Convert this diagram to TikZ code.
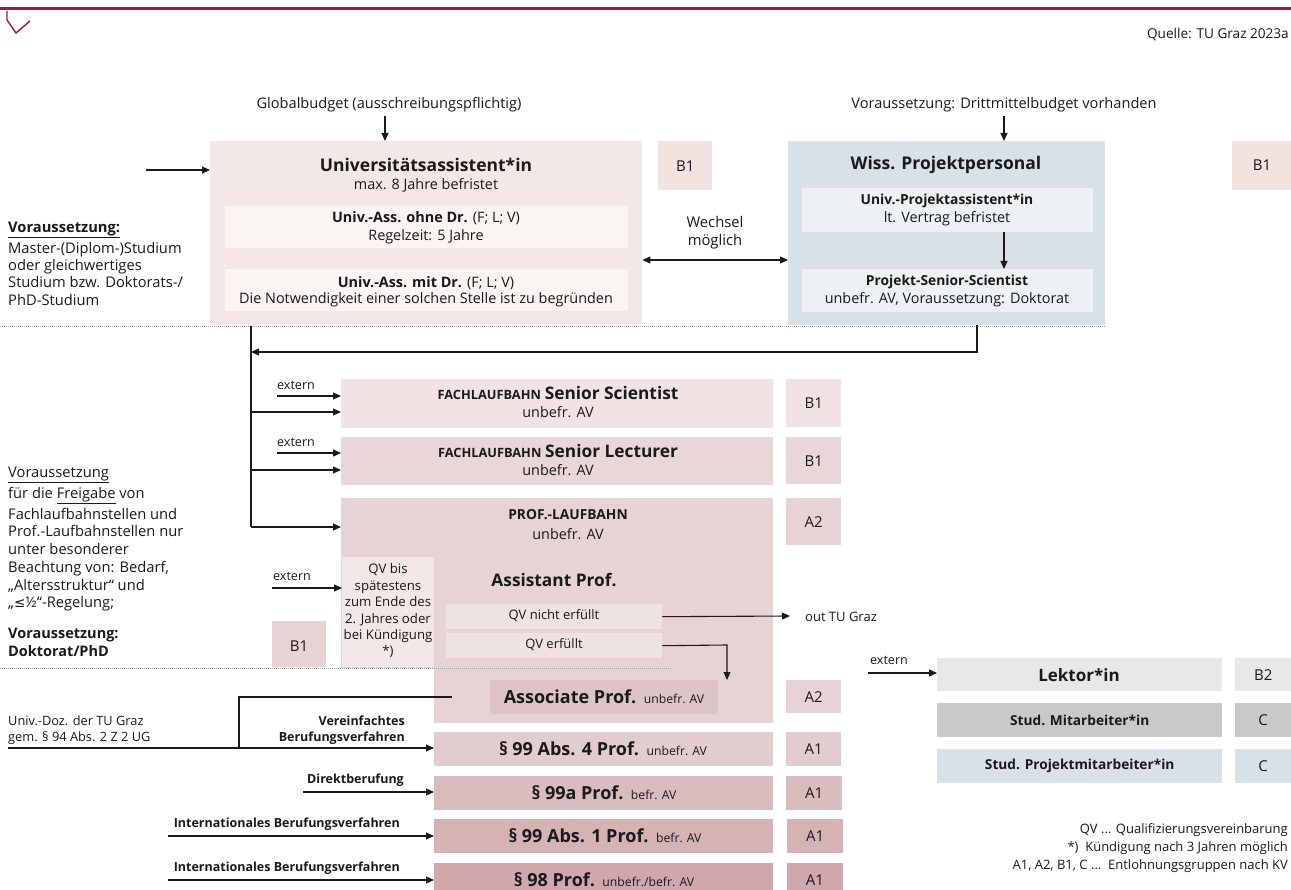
\documentclass[tikz,border=0pt]{standalone}
\usepackage{fontspec}
\setmainfont{Open Sans}
\newfontfamily\symf{DejaVu Sans}
\usetikzlibrary{arrows.meta}
\definecolor{cRed}{HTML}{9E1B3C}
\definecolor{cU}{HTML}{F4E8E7}
\definecolor{cUin}{HTML}{FAF4F3}
\definecolor{cBtop}{HTML}{F2E3E1}
\definecolor{cW}{HTML}{D8E1E6}
\definecolor{cWin}{HTML}{EDF1F4}
\definecolor{cFSS}{HTML}{F1E3E3}
\definecolor{cFSL}{HTML}{E9D6D7}
\definecolor{cProf}{HTML}{E7D3D4}
\definecolor{cQV}{HTML}{F2E6E6}
\definecolor{cQVn}{HTML}{EFE2E2}
\definecolor{cAss}{HTML}{DCC5C7}
\definecolor{cA}{HTML}{E3CCCE}
\definecolor{cB}{HTML}{DABCBE}
\definecolor{cC}{HTML}{D5B2B4}
\definecolor{cD}{HTML}{D0A7AA}
\definecolor{cLek}{HTML}{E8E8E8}
\definecolor{cSM}{HTML}{C9C9C9}
\definecolor{cSP}{HTML}{D7E1E6}
\definecolor{cTxt}{HTML}{1A1A1A}
\newcommand\fs[1]{\fontsize{#1}{#1}\selectfont}
\begin{document}
\begin{tikzpicture}[x=1pt,y=-1pt,
  every node/.style={text=cTxt},
  font=\fs{14.4},
  bx/.style={inner sep=0pt, anchor=north west, draw=none},
  tx/.style={inner sep=0pt, align=center},
  arr/.style={-{Triangle[length=8pt,width=7pt]}, line width=1.1pt, draw=cTxt},
  darr/.style={{Triangle[length=8pt,width=7pt]}-{Triangle[length=8pt,width=7pt]}, line width=1.1pt, draw=cTxt},
  ln/.style={line width=1.1pt, draw=cTxt},
  dots/.style={line width=1pt, draw=gray!75, dash pattern=on 0.8pt off 1.2pt}
]
\useasboundingbox (0,0) rectangle (1291,890);
\fill[white] (0,0) rectangle (1291,890);
% header
\draw[cRed, line width=3pt] (0,9) -- (1291,9);
\draw[cRed, line width=1.4pt] (7,11) -- (7,20) -- (16,33) -- (30,21);
\node[tx, anchor=east, font=\fs{13.6}] (quelle) at (1289,34) {Quelle: TU Graz 2023a};

% top labels
\node[tx, font=\fs{14.6}] (gb) at (389,105) {Globalbudget (ausschreibungspflichtig)};
\node[tx, font=\fs{14.6}] (dm) at (1004,105) {Voraussetzung: Drittmittelbudget vorhanden};

% Univ box
\node[bx, fill=cU, minimum width=432pt, minimum height=184pt] (univ) at (210,141) {};
\node[tx, font=\bfseries\fs{17.5}] (univt) at (426,165) {Universitätsassistent*in};
\node[tx] (univs) at (426,185) {max. 8 Jahre befristet};
\node[bx, fill=cUin, minimum width=403pt, minimum height=42pt] (ua1) at (225,206) {};
\node[tx] (ua1a) at (426,218) {\textbf{Univ.-Ass. ohne Dr.} (F; L; V)};
\node[tx] (ua1b) at (426,237) {Regelzeit: 5 Jahre};
\node[bx, fill=cUin, minimum width=403pt, minimum height=42pt] (ua2) at (225,269) {};
\node[tx] (ua2a) at (426,283) {\textbf{Univ.-Ass. mit Dr.} (F; L; V)};
\node[tx] (ua2b) at (426,300) {Die Notwendigkeit einer solchen Stelle ist zu begründen};
\node[bx, fill=cBtop, minimum width=54pt, minimum height=49pt] (b1a) at (658,141) {};
\node[tx, font=\fs{15}] at (b1a.center) {B1};

% Wiss box
\node[bx, fill=cW, minimum width=317pt, minimum height=184pt] (wiss) at (788,141) {};
\node[tx, font=\bfseries\fs{17.5}] (wisst) at (946,165) {Wiss. Projektpersonal};
\node[bx, fill=cWin, minimum width=291pt, minimum height=44pt] (wp1) at (802,188) {};
\node[tx, font=\bfseries\fs{13.8}] (wp1a) at (947,201) {Univ.-Projektassistent*in};
\node[tx] (wp1b) at (947,219) {lt. Vertrag befristet};
\node[bx, fill=cWin, minimum width=291pt, minimum height=43pt] (wp2) at (802,269) {};
\node[tx, font=\bfseries\fs{13.8}] (wp2a) at (947,282) {Projekt-Senior-Scientist};
\node[tx] (wp2b) at (947,300) {unbefr. AV, Voraussetzung: Doktorat};
\node[bx, fill=cBtop, minimum width=59pt, minimum height=49pt] (b1b) at (1232,141) {};
\node[tx, font=\fs{15}] at (1262,165) {B1};

\node[tx, align=center, font=\fs{14.8}] (wech) at (715,233) {Wechsel\\[3.5pt]möglich};

% top connectors
\coordinate (g1) at (385,116);
\draw[arr] (g1) -- (g1 |- univ.north);
\coordinate (d1) at (1004,116);
\draw[arr] (d1) -- (d1 |- wiss.north);
\coordinate (lin) at (146,170);
\draw[arr] (lin) -- (lin -| univ.west);
\coordinate (w1) at (1004,232);
\draw[arr] (w1) -- (w1 |- wp2.north);
\coordinate (wx) at (0,260);
\draw[darr] (wx -| univ.east) -- (wx -| wiss.west);

% left text 1
\node[tx, anchor=north west, align=left, font=\fs{14.7}] (vor1) at (8,222)
 {\textbf{\underline{Voraussetzung:}}\\[2.7pt]Master-(Diplom-)Studium\\[2.7pt]oder gleichwertiges\\[2.7pt]Studium bzw. Doktorats-/\\[2.7pt]PhD-Studium};

\draw[dots] (0,327) -- (1105,327);

% trunk
\coordinate (t0) at (251,326);
\coordinate (t1) at (251,412);
\coordinate (t2) at (251,470);
\coordinate (t3) at (251,527);
\coordinate (r0) at (977,325);
\coordinate (r1) at (977,352);
\coordinate (r2) at (251,352);
\draw[ln] (t0) -- (t3);
\draw[arr] (r0) -- (r1) -- (r2);

% Fachlaufbahn
\node[bx, fill=cFSS, minimum width=432pt, minimum height=49pt] (fss) at (341,379) {};
\node[tx] (fsst) at (558,393) {{\bfseries\fs{12.8}FACHLAUFBAHN} {\bfseries\fs{17.3}Senior Scientist}};
\node[tx] (fsss) at (558,412) {unbefr. AV};
\node[bx, fill=cFSS, minimum width=55pt, minimum height=48pt] (b1c) at (786,379) {};
\node[tx, font=\fs{15}] at (b1c.center) {B1};

\node[bx, fill=cFSL, minimum width=432pt, minimum height=48pt] (fsl) at (341,437) {};
\node[tx] (fslt) at (558,451) {{\bfseries\fs{12.8}FACHLAUFBAHN} {\bfseries\fs{17.3}Senior Lecturer}};
\node[tx] (fsls) at (558,470) {unbefr. AV};
\node[bx, fill=cFSL, minimum width=55pt, minimum height=47pt] (b1d) at (786,437) {};
\node[tx, font=\fs{15}] at (b1d.center) {B1};

\node[tx, font=\fs{12.6}] (ex1) at (296,385) {extern};
\node[tx, font=\fs{12.6}] (ex2) at (296,442) {extern};
\coordinate (e1) at (277,396);
\coordinate (e2) at (277,453);
\draw[arr] (e1) -- (e1 -| fss.west);
\draw[arr] (e2) -- (e2 -| fsl.west);
\draw[arr] (t1) -- (t1 -| fss.west);
\draw[arr] (t2) -- (t2 -| fsl.west);

% Prof-Laufbahn
\node[bx, fill=cProf, minimum width=432pt, minimum height=170pt] (prof) at (341,498) {};
\node[bx, fill=cProf, minimum width=339pt, minimum height=56pt] (proflow) at (434,667) {};
\node[tx, font=\bfseries\fs{13.8}] (proft) at (568,515) {PROF.-LAUFBAHN};
\node[tx] (profs) at (568,534) {unbefr. AV};
\node[bx, fill=cProf, minimum width=55pt, minimum height=47pt] (a2a) at (786,498) {};
\node[tx, font=\fs{15}] at (a2a.center) {A2};
\draw[arr] (t3) -- (t3 -| prof.west);

\node[bx, fill=cQV, minimum width=92pt, minimum height=110pt] (qv) at (342,557) {};
\node[tx, font=\fs{13.2}] (qvt) at (388,611) {QV bis\\[3.2pt]spätestens\\[3.2pt]zum Ende des\\[3.2pt]2. Jahres oder\\[3.2pt]bei Kündigung\\[3.2pt]*)};
\node[tx, font=\bfseries\fs{17.3}] (asst) at (554,580) {Assistant Prof.};
\node[bx, fill=cQVn, minimum width=216pt, minimum height=25pt] (qvn) at (446,604) {};
\node[tx, font=\fs{13}] at (554,616) {QV nicht erfüllt};
\node[bx, fill=cQVn, minimum width=216pt, minimum height=25pt] (qve) at (446,633) {};
\node[tx, font=\fs{13}] at (554,645) {QV erfüllt};
\node[tx, anchor=west, font=\fs{13}] (out) at (805,617) {out TU Graz};
\coordinate (o1) at (790,616);
\draw[arr] (qvn.east) -- (o1);
\coordinate (q1) at (727,645);
\coordinate (q2) at (727,680);
\draw[arr] (qve.east) -- (q1) -- (q2);
\node[tx, font=\fs{12.6}] (ex3) at (292,576) {extern};
\coordinate (e3) at (272,588);
\draw[arr] (e3) -- (e3 -| qv.west);

\node[bx, fill=cProf, minimum width=54pt, minimum height=46pt] (b1e) at (272,621) {};
\node[tx, font=\fs{15}] at (299,646) {B1};

% left text 2
\node[tx, anchor=north west, align=left, font=\fs{14.7}] (vor2) at (8,467)
 {\underline{Voraussetzung}\\[3.0pt]für die \underline{Freigabe} von\\[3.0pt]Fachlaufbahnstellen und\\[3.0pt]Prof.-Laufbahnstellen nur\\[3.0pt]unter besonderer\\[3.0pt]Beachtung von: Bedarf,\\[3.0pt]„Altersstruktur“ und\\[3.0pt]„{\symf\fs{13.5}≤}½“-Regelung;};
\node[tx, anchor=north west, align=left, font=\bfseries\fs{14.5}] (vor3) at (8,628)
 {Voraussetzung:\\[3.4pt]Doktorat/PhD};

\draw[dots] (0,668) -- (672,668);

% Associate
\node[bx, fill=cAss, minimum width=228pt, minimum height=34pt] (ass) at (490,680) {};
\node[tx] at (604,697) {{\bfseries\fs{18}Associate Prof.}\ \ {\fs{12.2}unbefr. AV}};
\node[bx, fill=cProf, minimum width=55pt, minimum height=33pt] (a2b) at (786,680) {};
\node[tx, font=\fs{15}] at (a2b.center) {A2};

% Prof rows
\node[bx, fill=cA, minimum width=339pt, minimum height=34pt] (p994) at (434,732) {};
\node[tx] at (603,749) {{\bfseries\fs{18}§ 99 Abs. 4 Prof.}\ \ {\fs{12.2}unbefr. AV}};
\node[bx, fill=cA, minimum width=55pt, minimum height=34pt] (a1a) at (786,732) {};
\node[tx, font=\fs{15}] at (a1a.center) {A1};

\node[bx, fill=cB, minimum width=339pt, minimum height=34pt] (p99a) at (434,776) {};
\node[tx] at (604,793) {{\bfseries\fs{18}§ 99a Prof.}\ \ {\fs{12.2}befr. AV}};
\node[bx, fill=cB, minimum width=56pt, minimum height=34pt] (a1b) at (786,776) {};
\node[tx, font=\fs{15}] at (a1b.center) {A1};

\node[bx, fill=cC, minimum width=339pt, minimum height=34pt] (p991) at (434,819) {};
\node[tx] at (605,836) {{\bfseries\fs{18}§ 99 Abs. 1 Prof.}\ \ {\fs{12.2}befr. AV}};
\node[bx, fill=cC, minimum width=56pt, minimum height=34pt] (a1c) at (787,819) {};
\node[tx, font=\fs{15}] at (a1c.center) {A1};

\node[bx, fill=cD, minimum width=339pt, minimum height=34pt] (p98) at (434,863) {};
\node[tx] at (604,880) {{\bfseries\fs{18}§ 98 Prof.}\ \ {\fs{12.2}unbefr./befr. AV}};
\node[bx, fill=cD, minimum width=56pt, minimum height=34pt] (a1d) at (787,863) {};
\node[tx, font=\fs{15}] at (815,880) {A1};

% left labels bottom
\node[tx, anchor=west, font=\fs{12.8}] (doz1) at (8,721) {Univ.-Doz. der TU Graz};
\node[tx, anchor=west, font=\fs{12.8}] (doz2) at (8,738) {gem. § 94 Abs. 2 Z 2 UG};
\node[tx, anchor=east, font=\bfseries\fs{12.5}] (ver1) at (405,721) {Vereinfachtes};
\node[tx, anchor=east, font=\bfseries\fs{12.5}] (ver2) at (405,738) {Berufungsverfahren};
\node[tx, anchor=east, font=\bfseries\fs{12.5}] (dir) at (404,780) {Direktberufung};
\node[tx, anchor=east, font=\bfseries\fs{12.5}] (int1) at (400,824) {Internationales Berufungsverfahren};
\node[tx, anchor=east, font=\bfseries\fs{12.5}] (int2) at (400,868) {Internationales Berufungsverfahren};

\coordinate (u0) at (8,748);
\draw[arr] (u0) -- (u0 -| p994.west);
\coordinate (s0) at (452,697);
\coordinate (s1) at (239,697);
\coordinate (s2) at (239,748);
\draw[ln] (s0) -- (s1) -- (s2);
\coordinate (k0) at (303,792);
\draw[arr] (k0) -- (k0 -| p99a.west);
\coordinate (k1) at (168,836);
\draw[arr] (k1) -- (k1 -| p991.west);
\coordinate (k2) at (168,880);
\draw[arr] (k2) -- (k2 -| p98.west);

% right group
\node[tx, font=\fs{12.6}] (ex4) at (889,660) {extern};
\node[bx, fill=cLek, minimum width=285pt, minimum height=33pt] (lek) at (937,658) {};
\node[tx, font=\bfseries\fs{17}] at (1079,675) {Lektor*in};
\node[bx, fill=cLek, minimum width=56pt, minimum height=33pt] (b2) at (1235,658) {};
\node[tx, font=\fs{15}] at (b2.center) {B2};
\coordinate (e4) at (868,673);
\draw[arr] (e4) -- (e4 -| lek.west);

\node[bx, fill=cSM, minimum width=285pt, minimum height=34pt] (sm) at (937,703) {};
\node[tx, font=\bfseries\fs{13.7}] at (sm.center) {Stud. Mitarbeiter*in};
\node[bx, fill=cSM, minimum width=56pt, minimum height=34pt] (c1) at (1235,703) {};
\node[tx, font=\fs{15}] at (c1.center) {C};

\node[bx, fill=cSP, minimum width=285pt, minimum height=34pt] (sp) at (937,749) {};
\node[tx, font=\bfseries\fs{13.7}] at (sp.center) {Stud. Projektmitarbeiter*in};
\node[bx, fill=cSP, minimum width=56pt, minimum height=34pt] (c2) at (1235,749) {};
\node[tx, font=\fs{15}] at (c2.center) {C};

% legend
\node[tx, anchor=east, font=\fs{13}] (lg1) at (1288,830) {QV ... Qualifizierungsvereinbarung};
\node[tx, anchor=east, font=\fs{13}] (lg2) at (1288,848) {*)\ \ Kündigung nach 3 Jahren möglich};
\node[tx, anchor=east, font=\fs{13}] (lg3) at (1288,866) {A1, A2, B1, C ...\ \ Entlohnungsgruppen nach KV};
\end{tikzpicture}
\end{document}
